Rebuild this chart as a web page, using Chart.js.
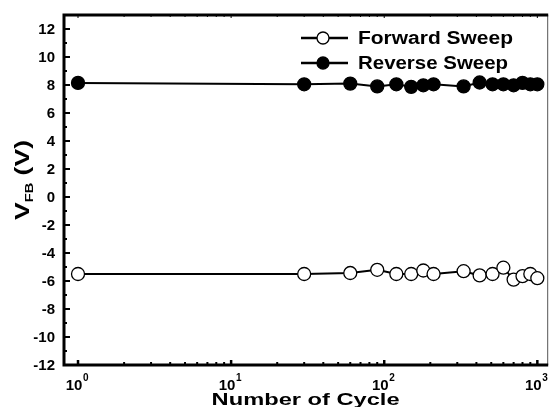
<!DOCTYPE html>
<html><head><meta charset="utf-8">
<script src="https://cdn.jsdelivr.net/npm/chart.js@4/dist/chart.umd.min.js"></script>
<style>html,body{margin:0;padding:0;background:#fff}#wrap{width:555px;height:407px}</style>
</head><body><div id="wrap"><canvas id="c" width="555" height="407"></canvas></div>
<script>
const cycles = [1,30,60,90,120,150,180,210,330,420,510,600,700,800,900,1000];
const forwardVfb = [-5.5,-5.5,-5.43,-5.2,-5.5,-5.5,-5.25,-5.5,-5.3,-5.6,-5.5,-5.05,-5.9,-5.65,-5.5,-5.8];
const reverseVfb = [8.15,8.05,8.1,7.9,8.05,7.87,7.98,8.05,7.9,8.18,8.05,8.05,7.98,8.15,8.05,8.05];
const yTicks = [12,10,8,6,4,2,0,-2,-4,-6,-8,-10,-12];
const xDecades = [1,10,100,1000];
const xLabels = ['0','1','2','3'];
const seriesNames = ['Forward Sweep','Reverse Sweep'];
const FONT = '"Liberation Sans", Arial, sans-serif';

const pts = a => cycles.map((c,i)=>({x:c,y:a[i]}));

function stretchText(ctx, text, x, y, font, targetW, align){
  ctx.font = font;
  const w = ctx.measureText(text).width;
  const s = targetW / w;
  ctx.save();
  ctx.translate(x, y);
  ctx.scale(s, 1);
  ctx.textAlign = 'left';
  let ox = 0;
  if (align === 'center') ox = -w/2;
  else if (align === 'right') ox = -w;
  ctx.fillText(text, ox, 0);
  ctx.restore();
}

const decor = {
  id:'decor',
  afterDraw(chart){
    const ctx = chart.ctx, a = chart.chartArea, xs = chart.scales.x, ys = chart.scales.y;
    ctx.save();
    // frame
    ctx.lineWidth = 1;
    ctx.strokeStyle = '#555';
    ctx.beginPath(); ctx.moveTo(a.right+0.5, a.top); ctx.lineTo(a.right+0.5, a.bottom); ctx.stroke();
    ctx.strokeStyle = '#000';
    ctx.lineWidth = 3;
    ctx.beginPath();
    ctx.moveTo(a.right+1, a.top); ctx.lineTo(a.left, a.top); ctx.lineTo(a.left, a.bottom); ctx.lineTo(a.right+1, a.bottom);
    ctx.stroke();
    // y ticks
    ctx.lineWidth = 2;
    for (let v=-12; v<=12; v++){
      const y = ys.getPixelForValue(v);
      const len = (v%2===0)?6:3;
      ctx.beginPath(); ctx.moveTo(a.left, y); ctx.lineTo(a.left+len, y); ctx.stroke();
    }
    // x ticks
    for (let d=0; d<4; d++){
      for (let m=1; m<=9; m++){
        const v = Math.pow(10,d)*m;
        if (v<xs.min || v>xs.max) continue;
        if (d===3 && m>1) continue;
        const x = xs.getPixelForValue(v);
        const len = m===1?5:3;
        ctx.lineWidth = m===1?2.5:2;
        ctx.beginPath(); ctx.moveTo(x, a.bottom); ctx.lineTo(x, a.bottom-len); ctx.stroke();
        ctx.lineWidth = 1;
        ctx.beginPath(); ctx.moveTo(x, a.top); ctx.lineTo(x, a.top+(m===1?3:2)); ctx.stroke();
      }
    }
    // y labels
    ctx.fillStyle = '#000';
    ctx.font = 'bold 15px '+FONT;
    ctx.textAlign = 'right'; ctx.textBaseline = 'middle';
    yTicks.forEach(v=>{ ctx.fillText(String(v), a.left-9, ys.getPixelForValue(v)+1); });
    // x labels
    xDecades.forEach((v,i)=>{
      const x = xs.getPixelForValue(v);
      ctx.font = 'bold 15px '+FONT;
      ctx.textAlign = 'center'; ctx.textBaseline = 'alphabetic';
      ctx.fillText('10', x-4, a.bottom+25);
      ctx.font = 'bold 10px '+FONT;
      ctx.textAlign = 'left';
      ctx.fillText(xLabels[i], x+5, a.bottom+16);
    });
    // x title
    ctx.textBaseline = 'alphabetic';
    stretchText(ctx, 'Number of Cycle', (a.left+a.right)/2, 405, 'bold 17px '+FONT, 188, 'center');
    // y title
    ctx.save();
    ctx.translate(29, 180);
    ctx.rotate(-Math.PI/2);
    ctx.textBaseline = 'alphabetic';
    ctx.textAlign = 'left';
    ctx.font = 'bold 20px '+FONT;
    const w1 = ctx.measureText('V').width;
    ctx.font = 'bold 11px '+FONT;
    const w2 = ctx.measureText('FB').width;
    ctx.font = 'bold 20px '+FONT;
    const w3 = ctx.measureText(' (V)').width;
    const tot = w1+w2+w3, s = 80/tot;
    ctx.scale(s,1);
    let sx = -tot/2;
    ctx.fillText('V', sx, 0);
    ctx.font = 'bold 11px '+FONT;
    ctx.fillText('FB', sx+w1, 4);
    ctx.font = 'bold 20px '+FONT;
    ctx.fillText(' (V)', sx+w1+w2, 0);
    ctx.restore();
    // legend
    const rows = [{y:38, fill:'#fff'},{y:63, fill:'#000'}];
    rows.forEach((r,i)=>{
      ctx.strokeStyle='#000'; ctx.lineWidth=2.5;
      ctx.beginPath(); ctx.moveTo(301, r.y); ctx.lineTo(348, r.y); ctx.stroke();
      ctx.beginPath(); ctx.arc(323, r.y, 6, 0, Math.PI*2);
      ctx.fillStyle = r.fill; ctx.fill(); ctx.lineWidth=1.3; ctx.stroke();
      ctx.fillStyle='#000';
      ctx.textBaseline='middle';
      stretchText(ctx, seriesNames[i], 358, r.y+1, 'bold 18px '+FONT, i===0?155:150, 'left');
    });
    ctx.restore();
  }
};

new Chart(document.getElementById('c'), {
  type:'line',
  data:{ datasets:[
    {label:seriesNames[0], data:pts(forwardVfb), borderColor:'#000', borderWidth:2, pointRadius:6.5, pointBorderWidth:1.3, pointBackgroundColor:'#fff', pointBorderColor:'#000', tension:0},
    {label:seriesNames[1], data:pts(reverseVfb), borderColor:'#000', borderWidth:2, pointRadius:6.5, pointBorderWidth:1.3, pointBackgroundColor:'#000', pointBorderColor:'#000', tension:0}
  ]},
  options:{
    responsive:false, animation:false, devicePixelRatio:1,
    layout:{padding:{left:64, right:2, top:15, bottom:42}},
    plugins:{legend:{display:false}, tooltip:{enabled:false}},
    scales:{
      x:{type:'logarithmic', min:0.81, max:1160, display:false},
      y:{type:'linear', min:-12, max:13, display:false}
    }
  },
  plugins:[decor]
});
</script></body></html>
